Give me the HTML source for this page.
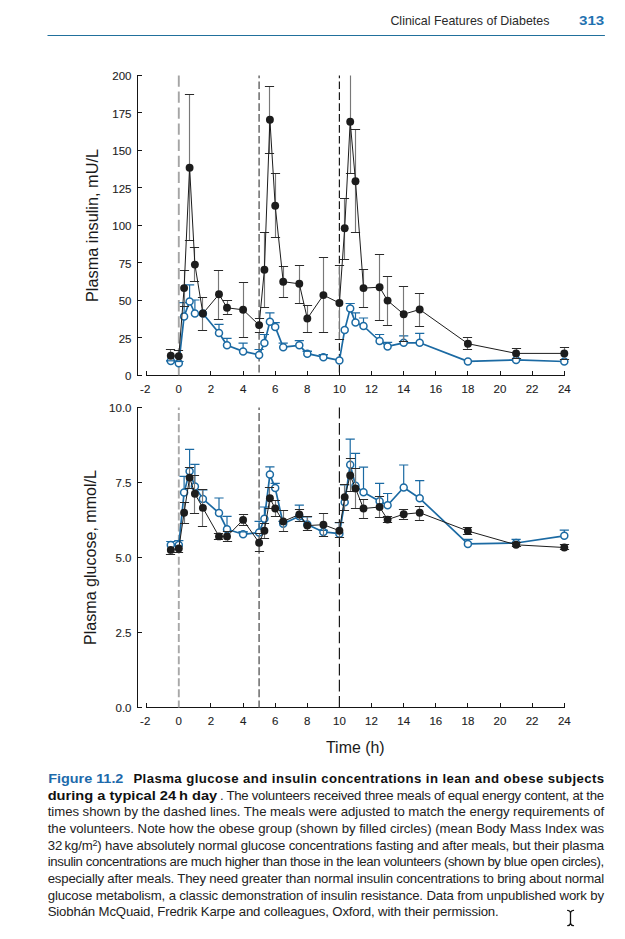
<!DOCTYPE html>
<html><head><meta charset="utf-8"><style>
html,body{margin:0;padding:0;background:#fff;}
body{width:625px;height:939px;overflow:hidden;}
svg{display:block;}
text{font-family:"Liberation Sans",sans-serif;}
.tk{font-size:11.5px;fill:#1e1e1e;stroke:#1e1e1e;stroke-width:0.12px;}
.ax{font-size:16px;fill:#1a1a1a;}
.hd{font-size:13.3px;fill:#2a2a2a;}
.pg{font-size:13.4px;font-weight:bold;fill:#1f72b0;}
.cp{font-size:13.2px;fill:#222;}
.b{font-weight:bold;fill:#111;}
.fig{font-weight:bold;fill:#1d6aab;}
</style></head><body>
<svg width="625" height="939" viewBox="0 0 625 939">
<path d="M137.5 75.0V376.0" stroke="#151515" stroke-width="1" fill="none"/>
<path d="M137.5 375.5H142" stroke="#151515" stroke-width="1"/>
<text x="131.5" y="380.0" text-anchor="end" class="tk">0</text>
<path d="M137.5 337.5H142" stroke="#151515" stroke-width="1"/>
<text x="131.5" y="342.5" text-anchor="end" class="tk">25</text>
<path d="M137.5 300.5H142" stroke="#151515" stroke-width="1"/>
<text x="131.5" y="305.0" text-anchor="end" class="tk">50</text>
<path d="M137.5 262.5H142" stroke="#151515" stroke-width="1"/>
<text x="131.5" y="267.5" text-anchor="end" class="tk">75</text>
<path d="M137.5 225.5H142" stroke="#151515" stroke-width="1"/>
<text x="131.5" y="230.0" text-anchor="end" class="tk">100</text>
<path d="M137.5 187.5H142" stroke="#151515" stroke-width="1"/>
<text x="131.5" y="192.5" text-anchor="end" class="tk">125</text>
<path d="M137.5 150.5H142" stroke="#151515" stroke-width="1"/>
<text x="131.5" y="155.0" text-anchor="end" class="tk">150</text>
<path d="M137.5 112.5H142" stroke="#151515" stroke-width="1"/>
<text x="131.5" y="117.5" text-anchor="end" class="tk">175</text>
<path d="M137.5 75.5H142" stroke="#151515" stroke-width="1"/>
<text x="131.5" y="80.0" text-anchor="end" class="tk">200</text>
<path d="M146 375.5H565" stroke="#151515" stroke-width="1" fill="none"/>
<path d="M146.5 375.5V371.0" stroke="#151515" stroke-width="1"/>
<text x="145.2" y="392.6" text-anchor="middle" class="tk">-2</text>
<path d="M178.5 375.5V371.0" stroke="#151515" stroke-width="1"/>
<text x="178.8" y="392.6" text-anchor="middle" class="tk">0</text>
<path d="M210.5 375.5V371.0" stroke="#151515" stroke-width="1"/>
<text x="211.0" y="392.6" text-anchor="middle" class="tk">2</text>
<path d="M243.5 375.5V371.0" stroke="#151515" stroke-width="1"/>
<text x="243.1" y="392.6" text-anchor="middle" class="tk">4</text>
<path d="M275.5 375.5V371.0" stroke="#151515" stroke-width="1"/>
<text x="275.2" y="392.6" text-anchor="middle" class="tk">6</text>
<path d="M307.5 375.5V371.0" stroke="#151515" stroke-width="1"/>
<text x="307.3" y="392.6" text-anchor="middle" class="tk">8</text>
<path d="M339.5 375.5V371.0" stroke="#151515" stroke-width="1"/>
<text x="339.4" y="392.6" text-anchor="middle" class="tk">10</text>
<path d="M371.5 375.5V371.0" stroke="#151515" stroke-width="1"/>
<text x="371.5" y="392.6" text-anchor="middle" class="tk">12</text>
<path d="M403.5 375.5V371.0" stroke="#151515" stroke-width="1"/>
<text x="403.7" y="392.6" text-anchor="middle" class="tk">14</text>
<path d="M435.5 375.5V371.0" stroke="#151515" stroke-width="1"/>
<text x="435.8" y="392.6" text-anchor="middle" class="tk">16</text>
<path d="M467.5 375.5V371.0" stroke="#151515" stroke-width="1"/>
<text x="467.9" y="392.6" text-anchor="middle" class="tk">18</text>
<path d="M500.5 375.5V371.0" stroke="#151515" stroke-width="1"/>
<text x="500.0" y="392.6" text-anchor="middle" class="tk">20</text>
<path d="M532.5 375.5V371.0" stroke="#151515" stroke-width="1"/>
<text x="532.1" y="392.6" text-anchor="middle" class="tk">22</text>
<path d="M564.5 375.5V371.0" stroke="#151515" stroke-width="1"/>
<text x="564.3" y="392.6" text-anchor="middle" class="tk">24</text>
<line x1="178.8" y1="75.4" x2="178.8" y2="375.3" stroke="#a5a5a5" stroke-width="1.9" stroke-dasharray="11.3 4.75" stroke-dashoffset="0"/>
<line x1="259.1" y1="75.4" x2="259.1" y2="375.3" stroke="#606060" stroke-width="1.4" stroke-dasharray="7.7 3.2" stroke-dashoffset="4.9"/>
<line x1="339.4" y1="75.4" x2="339.4" y2="375.3" stroke="#1a1a1a" stroke-width="1.2" stroke-dasharray="7.7 3.2" stroke-dashoffset="4.9"/>
<path d="M170.8 361.1V360.8M166.2 360.8H175.4" stroke="#1b6aa3" stroke-width="1.2" fill="none"/>
<path d="M178.8 363.3V361.5M174.2 361.5H183.4" stroke="#1b6aa3" stroke-width="1.2" fill="none"/>
<path d="M184.1 316.4V302.7M179.5 302.7H188.7" stroke="#1b6aa3" stroke-width="1.2" fill="none"/>
<path d="M189.6 301.5V284.9M185.0 284.9H194.2" stroke="#1b6aa3" stroke-width="1.2" fill="none"/>
<path d="M194.9 313.5V300.0M190.3 300.0H199.5" stroke="#1b6aa3" stroke-width="1.2" fill="none"/>
<path d="M219.0 333.0V324.3M214.4 324.3H223.6" stroke="#1b6aa3" stroke-width="1.2" fill="none"/>
<path d="M227.0 345.3V338.4M222.4 338.4H231.6" stroke="#1b6aa3" stroke-width="1.2" fill="none"/>
<path d="M243.1 351.4V343.1M238.5 343.1H247.7" stroke="#1b6aa3" stroke-width="1.2" fill="none"/>
<path d="M259.1 354.9V349.5M254.5 349.5H263.7" stroke="#1b6aa3" stroke-width="1.2" fill="none"/>
<path d="M264.4 343.1V334.5M259.8 334.5H269.0" stroke="#1b6aa3" stroke-width="1.2" fill="none"/>
<path d="M269.9 321.8V312.8M265.3 312.8H274.5" stroke="#1b6aa3" stroke-width="1.2" fill="none"/>
<path d="M275.2 326.9V322.6M270.6 322.6H279.8" stroke="#1b6aa3" stroke-width="1.2" fill="none"/>
<path d="M283.2 347.2V343.1M278.6 343.1H287.8" stroke="#1b6aa3" stroke-width="1.2" fill="none"/>
<path d="M299.3 345.3V340.6M294.7 340.6H303.9" stroke="#1b6aa3" stroke-width="1.2" fill="none"/>
<path d="M307.3 353.7V351.3M302.7 351.3H311.9" stroke="#1b6aa3" stroke-width="1.2" fill="none"/>
<path d="M323.4 357.2V354.6M318.8 354.6H328.0" stroke="#1b6aa3" stroke-width="1.2" fill="none"/>
<path d="M350.2 308.6V303.5M345.6 303.5H354.8" stroke="#1b6aa3" stroke-width="1.2" fill="none"/>
<path d="M355.5 322.6V312.8M350.9 312.8H360.1" stroke="#1b6aa3" stroke-width="1.2" fill="none"/>
<path d="M363.5 326.0V318.0M358.9 318.0H368.1" stroke="#1b6aa3" stroke-width="1.2" fill="none"/>
<path d="M379.6 341.0V334.5M375.0 334.5H384.2" stroke="#1b6aa3" stroke-width="1.2" fill="none"/>
<path d="M387.6 346.4V342.3M383.0 342.3H392.2" stroke="#1b6aa3" stroke-width="1.2" fill="none"/>
<path d="M403.7 342.8V335.9M399.1 335.9H408.3" stroke="#1b6aa3" stroke-width="1.2" fill="none"/>
<path d="M419.7 342.8V333.3M415.1 333.3H424.3" stroke="#1b6aa3" stroke-width="1.2" fill="none"/>
<polyline points="170.8,361.1 178.8,363.3 184.1,316.4 189.6,301.5 194.9,313.5 202.9,313.5 219.0,333.0 227.0,345.3 243.1,351.4 259.1,354.9 264.4,343.1 269.9,321.8 275.2,326.9 283.2,347.2 299.3,345.3 307.3,353.7 323.4,357.2 339.4,360.4 344.7,329.9 350.2,308.6 355.5,322.6 363.5,326.0 379.6,341.0 387.6,346.4 403.7,342.8 419.7,342.8 467.9,361.4 516.1,359.9 564.3,361.5" fill="none" stroke="#1b6aa3" stroke-width="1.7" stroke-linejoin="round"/>
<circle cx="170.8" cy="361.1" r="3.5" fill="#fff" stroke="#1b6aa3" stroke-width="1.5"/>
<circle cx="178.8" cy="363.3" r="3.5" fill="#fff" stroke="#1b6aa3" stroke-width="1.5"/>
<circle cx="184.1" cy="316.4" r="3.5" fill="#fff" stroke="#1b6aa3" stroke-width="1.5"/>
<circle cx="189.6" cy="301.5" r="3.5" fill="#fff" stroke="#1b6aa3" stroke-width="1.5"/>
<circle cx="194.9" cy="313.5" r="3.5" fill="#fff" stroke="#1b6aa3" stroke-width="1.5"/>
<circle cx="202.9" cy="313.5" r="3.5" fill="#fff" stroke="#1b6aa3" stroke-width="1.5"/>
<circle cx="219.0" cy="333.0" r="3.5" fill="#fff" stroke="#1b6aa3" stroke-width="1.5"/>
<circle cx="227.0" cy="345.3" r="3.5" fill="#fff" stroke="#1b6aa3" stroke-width="1.5"/>
<circle cx="243.1" cy="351.4" r="3.5" fill="#fff" stroke="#1b6aa3" stroke-width="1.5"/>
<circle cx="259.1" cy="354.9" r="3.5" fill="#fff" stroke="#1b6aa3" stroke-width="1.5"/>
<circle cx="264.4" cy="343.1" r="3.5" fill="#fff" stroke="#1b6aa3" stroke-width="1.5"/>
<circle cx="269.9" cy="321.8" r="3.5" fill="#fff" stroke="#1b6aa3" stroke-width="1.5"/>
<circle cx="275.2" cy="326.9" r="3.5" fill="#fff" stroke="#1b6aa3" stroke-width="1.5"/>
<circle cx="283.2" cy="347.2" r="3.5" fill="#fff" stroke="#1b6aa3" stroke-width="1.5"/>
<circle cx="299.3" cy="345.3" r="3.5" fill="#fff" stroke="#1b6aa3" stroke-width="1.5"/>
<circle cx="307.3" cy="353.7" r="3.5" fill="#fff" stroke="#1b6aa3" stroke-width="1.5"/>
<circle cx="323.4" cy="357.2" r="3.5" fill="#fff" stroke="#1b6aa3" stroke-width="1.5"/>
<circle cx="339.4" cy="360.4" r="3.5" fill="#fff" stroke="#1b6aa3" stroke-width="1.5"/>
<circle cx="344.7" cy="329.9" r="3.5" fill="#fff" stroke="#1b6aa3" stroke-width="1.5"/>
<circle cx="350.2" cy="308.6" r="3.5" fill="#fff" stroke="#1b6aa3" stroke-width="1.5"/>
<circle cx="355.5" cy="322.6" r="3.5" fill="#fff" stroke="#1b6aa3" stroke-width="1.5"/>
<circle cx="363.5" cy="326.0" r="3.5" fill="#fff" stroke="#1b6aa3" stroke-width="1.5"/>
<circle cx="379.6" cy="341.0" r="3.5" fill="#fff" stroke="#1b6aa3" stroke-width="1.5"/>
<circle cx="387.6" cy="346.4" r="3.5" fill="#fff" stroke="#1b6aa3" stroke-width="1.5"/>
<circle cx="403.7" cy="342.8" r="3.5" fill="#fff" stroke="#1b6aa3" stroke-width="1.5"/>
<circle cx="419.7" cy="342.8" r="3.5" fill="#fff" stroke="#1b6aa3" stroke-width="1.5"/>
<circle cx="467.9" cy="361.4" r="3.5" fill="#fff" stroke="#1b6aa3" stroke-width="1.5"/>
<circle cx="516.1" cy="359.9" r="3.5" fill="#fff" stroke="#1b6aa3" stroke-width="1.5"/>
<circle cx="564.3" cy="361.5" r="3.5" fill="#fff" stroke="#1b6aa3" stroke-width="1.5"/>
<path d="M166.2 360.8H175.4" stroke="#1b6aa3" stroke-width="1.2" fill="none"/>
<path d="M174.2 361.5H183.4" stroke="#1b6aa3" stroke-width="1.2" fill="none"/>
<path d="M302.7 351.3H311.9" stroke="#1b6aa3" stroke-width="1.2" fill="none"/>
<path d="M318.8 354.6H328.0" stroke="#1b6aa3" stroke-width="1.2" fill="none"/>
<path d="M170.5 355.8V349.5" stroke="#787878" stroke-width="1.15"/>
<path d="M165.9 349.5H175.1" stroke="#2a2a2a" stroke-width="1"/>
<path d="M178.5 356.2V350.5" stroke="#787878" stroke-width="1.15"/>
<path d="M173.9 350.5H183.1" stroke="#2a2a2a" stroke-width="1"/>
<path d="M184.5 288.1V270.5" stroke="#787878" stroke-width="1.15"/>
<path d="M179.9 270.5H189.1" stroke="#2a2a2a" stroke-width="1"/>
<path d="M184.5 288.1V306.5" stroke="#787878" stroke-width="1.15"/>
<path d="M179.9 306.5H189.1" stroke="#2a2a2a" stroke-width="1"/>
<path d="M189.5 167.7V94.5" stroke="#787878" stroke-width="1.15"/>
<path d="M184.9 94.5H194.1" stroke="#2a2a2a" stroke-width="1"/>
<path d="M189.5 167.7V240.5" stroke="#787878" stroke-width="1.15"/>
<path d="M184.9 240.5H194.1" stroke="#2a2a2a" stroke-width="1"/>
<path d="M194.5 264.6V247.5" stroke="#787878" stroke-width="1.15"/>
<path d="M189.9 247.5H199.1" stroke="#2a2a2a" stroke-width="1"/>
<path d="M194.5 264.6V281.5" stroke="#787878" stroke-width="1.15"/>
<path d="M189.9 281.5H199.1" stroke="#2a2a2a" stroke-width="1"/>
<path d="M202.5 313.5V297.5" stroke="#787878" stroke-width="1.15"/>
<path d="M197.9 297.5H207.1" stroke="#2a2a2a" stroke-width="1"/>
<path d="M202.5 313.5V330.5" stroke="#787878" stroke-width="1.15"/>
<path d="M197.9 330.5H207.1" stroke="#2a2a2a" stroke-width="1"/>
<path d="M218.5 294.3V270.5" stroke="#787878" stroke-width="1.15"/>
<path d="M213.9 270.5H223.1" stroke="#2a2a2a" stroke-width="1"/>
<path d="M218.5 294.3V319.5" stroke="#787878" stroke-width="1.15"/>
<path d="M213.9 319.5H223.1" stroke="#2a2a2a" stroke-width="1"/>
<path d="M227.5 307.8V300.5" stroke="#787878" stroke-width="1.15"/>
<path d="M222.9 300.5H232.1" stroke="#2a2a2a" stroke-width="1"/>
<path d="M227.5 307.8V314.5" stroke="#787878" stroke-width="1.15"/>
<path d="M222.9 314.5H232.1" stroke="#2a2a2a" stroke-width="1"/>
<path d="M243.5 309.8V282.5" stroke="#787878" stroke-width="1.15"/>
<path d="M238.9 282.5H248.1" stroke="#2a2a2a" stroke-width="1"/>
<path d="M243.5 309.8V337.5" stroke="#787878" stroke-width="1.15"/>
<path d="M238.9 337.5H248.1" stroke="#2a2a2a" stroke-width="1"/>
<path d="M259.5 325.1V318.5" stroke="#787878" stroke-width="1.15"/>
<path d="M254.9 318.5H264.1" stroke="#2a2a2a" stroke-width="1"/>
<path d="M259.5 325.1V332.5" stroke="#787878" stroke-width="1.15"/>
<path d="M254.9 332.5H264.1" stroke="#2a2a2a" stroke-width="1"/>
<path d="M264.5 269.7V232.5" stroke="#787878" stroke-width="1.15"/>
<path d="M259.9 232.5H269.1" stroke="#2a2a2a" stroke-width="1"/>
<path d="M264.5 269.7V307.5" stroke="#787878" stroke-width="1.15"/>
<path d="M259.9 307.5H269.1" stroke="#2a2a2a" stroke-width="1"/>
<path d="M269.5 119.7V86.5" stroke="#787878" stroke-width="1.15"/>
<path d="M264.9 86.5H274.1" stroke="#2a2a2a" stroke-width="1"/>
<path d="M269.5 119.7V153.5" stroke="#787878" stroke-width="1.15"/>
<path d="M264.9 153.5H274.1" stroke="#2a2a2a" stroke-width="1"/>
<path d="M275.5 205.8V173.5" stroke="#787878" stroke-width="1.15"/>
<path d="M270.9 173.5H280.1" stroke="#2a2a2a" stroke-width="1"/>
<path d="M275.5 205.8V237.5" stroke="#787878" stroke-width="1.15"/>
<path d="M270.9 237.5H280.1" stroke="#2a2a2a" stroke-width="1"/>
<path d="M283.5 281.7V266.5" stroke="#787878" stroke-width="1.15"/>
<path d="M278.9 266.5H288.1" stroke="#2a2a2a" stroke-width="1"/>
<path d="M283.5 281.7V297.5" stroke="#787878" stroke-width="1.15"/>
<path d="M278.9 297.5H288.1" stroke="#2a2a2a" stroke-width="1"/>
<path d="M299.5 283.8V265.5" stroke="#787878" stroke-width="1.15"/>
<path d="M294.9 265.5H304.1" stroke="#2a2a2a" stroke-width="1"/>
<path d="M299.5 283.8V303.5" stroke="#787878" stroke-width="1.15"/>
<path d="M294.9 303.5H304.1" stroke="#2a2a2a" stroke-width="1"/>
<path d="M307.5 318.5V305.5" stroke="#787878" stroke-width="1.15"/>
<path d="M302.9 305.5H312.1" stroke="#2a2a2a" stroke-width="1"/>
<path d="M307.5 318.5V332.5" stroke="#787878" stroke-width="1.15"/>
<path d="M302.9 332.5H312.1" stroke="#2a2a2a" stroke-width="1"/>
<path d="M323.5 295.1V257.5" stroke="#787878" stroke-width="1.15"/>
<path d="M318.9 257.5H328.1" stroke="#2a2a2a" stroke-width="1"/>
<path d="M323.5 295.1V332.5" stroke="#787878" stroke-width="1.15"/>
<path d="M318.9 332.5H328.1" stroke="#2a2a2a" stroke-width="1"/>
<path d="M339.5 303.0V265.5" stroke="#787878" stroke-width="1.15"/>
<path d="M334.9 265.5H344.1" stroke="#2a2a2a" stroke-width="1"/>
<path d="M339.5 303.0V339.5" stroke="#787878" stroke-width="1.15"/>
<path d="M334.9 339.5H344.1" stroke="#2a2a2a" stroke-width="1"/>
<path d="M344.5 228.3V198.5" stroke="#787878" stroke-width="1.15"/>
<path d="M339.9 198.5H349.1" stroke="#2a2a2a" stroke-width="1"/>
<path d="M344.5 228.3V259.5" stroke="#787878" stroke-width="1.15"/>
<path d="M339.9 259.5H349.1" stroke="#2a2a2a" stroke-width="1"/>
<path d="M350.5 121.8V75.5" stroke="#787878" stroke-width="1.15"/>
<path d="M350.5 121.8V173.5" stroke="#787878" stroke-width="1.15"/>
<path d="M345.9 173.5H355.1" stroke="#2a2a2a" stroke-width="1"/>
<path d="M355.5 181.2V129.5" stroke="#787878" stroke-width="1.15"/>
<path d="M350.9 129.5H360.1" stroke="#2a2a2a" stroke-width="1"/>
<path d="M355.5 181.2V232.5" stroke="#787878" stroke-width="1.15"/>
<path d="M350.9 232.5H360.1" stroke="#2a2a2a" stroke-width="1"/>
<path d="M363.5 288.1V269.5" stroke="#787878" stroke-width="1.15"/>
<path d="M358.9 269.5H368.1" stroke="#2a2a2a" stroke-width="1"/>
<path d="M363.5 288.1V307.5" stroke="#787878" stroke-width="1.15"/>
<path d="M358.9 307.5H368.1" stroke="#2a2a2a" stroke-width="1"/>
<path d="M379.5 287.2V254.5" stroke="#787878" stroke-width="1.15"/>
<path d="M374.9 254.5H384.1" stroke="#2a2a2a" stroke-width="1"/>
<path d="M379.5 287.2V320.5" stroke="#787878" stroke-width="1.15"/>
<path d="M374.9 320.5H384.1" stroke="#2a2a2a" stroke-width="1"/>
<path d="M387.5 300.6V276.5" stroke="#787878" stroke-width="1.15"/>
<path d="M382.9 276.5H392.1" stroke="#2a2a2a" stroke-width="1"/>
<path d="M387.5 300.6V325.5" stroke="#787878" stroke-width="1.15"/>
<path d="M382.9 325.5H392.1" stroke="#2a2a2a" stroke-width="1"/>
<path d="M403.5 314.2V286.5" stroke="#787878" stroke-width="1.15"/>
<path d="M398.9 286.5H408.1" stroke="#2a2a2a" stroke-width="1"/>
<path d="M403.5 314.2V341.5" stroke="#787878" stroke-width="1.15"/>
<path d="M398.9 341.5H408.1" stroke="#2a2a2a" stroke-width="1"/>
<path d="M419.5 309.5V293.5" stroke="#787878" stroke-width="1.15"/>
<path d="M414.9 293.5H424.1" stroke="#2a2a2a" stroke-width="1"/>
<path d="M419.5 309.5V326.5" stroke="#787878" stroke-width="1.15"/>
<path d="M414.9 326.5H424.1" stroke="#2a2a2a" stroke-width="1"/>
<path d="M467.5 343.7V337.5" stroke="#787878" stroke-width="1.15"/>
<path d="M462.9 337.5H472.1" stroke="#2a2a2a" stroke-width="1"/>
<path d="M467.5 343.7V349.5" stroke="#787878" stroke-width="1.15"/>
<path d="M462.9 349.5H472.1" stroke="#2a2a2a" stroke-width="1"/>
<path d="M516.5 353.4V348.5" stroke="#787878" stroke-width="1.15"/>
<path d="M511.9 348.5H521.1" stroke="#2a2a2a" stroke-width="1"/>
<path d="M516.5 353.4V358.5" stroke="#787878" stroke-width="1.15"/>
<path d="M511.9 358.5H521.1" stroke="#2a2a2a" stroke-width="1"/>
<path d="M564.5 353.4V347.5" stroke="#787878" stroke-width="1.15"/>
<path d="M559.9 347.5H569.1" stroke="#2a2a2a" stroke-width="1"/>
<path d="M564.5 353.4V359.5" stroke="#787878" stroke-width="1.15"/>
<path d="M559.9 359.5H569.1" stroke="#2a2a2a" stroke-width="1"/>
<polyline points="170.8,355.8 178.8,356.2 184.1,288.1 189.6,167.7 194.9,264.6 202.9,313.5 219.0,294.3 227.0,307.8 243.1,309.8 259.1,325.1 264.4,269.7 269.9,119.7 275.2,205.8 283.2,281.7 299.3,283.8 307.3,318.5 323.4,295.1 339.4,303.0 344.7,228.3 350.2,121.8 355.5,181.2 363.5,288.1 379.6,287.2 387.6,300.6 403.7,314.2 419.7,309.5 467.9,343.7 516.1,353.4 564.3,353.4" fill="none" stroke="#1c1c1c" stroke-width="1" stroke-linejoin="round"/>
<circle cx="170.8" cy="355.8" r="3.95" fill="#1c1c1c"/>
<circle cx="178.8" cy="356.2" r="3.95" fill="#1c1c1c"/>
<circle cx="184.1" cy="288.1" r="3.95" fill="#1c1c1c"/>
<circle cx="189.6" cy="167.7" r="3.95" fill="#1c1c1c"/>
<circle cx="194.9" cy="264.6" r="3.95" fill="#1c1c1c"/>
<circle cx="202.9" cy="313.5" r="3.95" fill="#1c1c1c"/>
<circle cx="219.0" cy="294.3" r="3.95" fill="#1c1c1c"/>
<circle cx="227.0" cy="307.8" r="3.95" fill="#1c1c1c"/>
<circle cx="243.1" cy="309.8" r="3.95" fill="#1c1c1c"/>
<circle cx="259.1" cy="325.1" r="3.95" fill="#1c1c1c"/>
<circle cx="264.4" cy="269.7" r="3.95" fill="#1c1c1c"/>
<circle cx="269.9" cy="119.7" r="3.95" fill="#1c1c1c"/>
<circle cx="275.2" cy="205.8" r="3.95" fill="#1c1c1c"/>
<circle cx="283.2" cy="281.7" r="3.95" fill="#1c1c1c"/>
<circle cx="299.3" cy="283.8" r="3.95" fill="#1c1c1c"/>
<circle cx="307.3" cy="318.5" r="3.95" fill="#1c1c1c"/>
<circle cx="323.4" cy="295.1" r="3.95" fill="#1c1c1c"/>
<circle cx="339.4" cy="303.0" r="3.95" fill="#1c1c1c"/>
<circle cx="344.7" cy="228.3" r="3.95" fill="#1c1c1c"/>
<circle cx="350.2" cy="121.8" r="3.95" fill="#1c1c1c"/>
<circle cx="355.5" cy="181.2" r="3.95" fill="#1c1c1c"/>
<circle cx="363.5" cy="288.1" r="3.95" fill="#1c1c1c"/>
<circle cx="379.6" cy="287.2" r="3.95" fill="#1c1c1c"/>
<circle cx="387.6" cy="300.6" r="3.95" fill="#1c1c1c"/>
<circle cx="403.7" cy="314.2" r="3.95" fill="#1c1c1c"/>
<circle cx="419.7" cy="309.5" r="3.95" fill="#1c1c1c"/>
<circle cx="467.9" cy="343.7" r="3.95" fill="#1c1c1c"/>
<circle cx="516.1" cy="353.4" r="3.95" fill="#1c1c1c"/>
<circle cx="564.3" cy="353.4" r="3.95" fill="#1c1c1c"/>
<path d="M137.5 407.0V708.0" stroke="#151515" stroke-width="1" fill="none"/>
<path d="M137.5 707.5H142" stroke="#151515" stroke-width="1"/>
<text x="131.5" y="712.1" text-anchor="end" class="tk">0.0</text>
<path d="M137.5 632.5H142" stroke="#151515" stroke-width="1"/>
<text x="131.5" y="637.1" text-anchor="end" class="tk">2.5</text>
<path d="M137.5 557.5H142" stroke="#151515" stroke-width="1"/>
<text x="131.5" y="562.1" text-anchor="end" class="tk">5.0</text>
<path d="M137.5 482.5H142" stroke="#151515" stroke-width="1"/>
<text x="131.5" y="487.1" text-anchor="end" class="tk">7.5</text>
<path d="M137.5 407.5H142" stroke="#151515" stroke-width="1"/>
<text x="131.5" y="412.1" text-anchor="end" class="tk">10.0</text>
<path d="M146 707.5H565" stroke="#151515" stroke-width="1" fill="none"/>
<path d="M146.5 707.5V703.0" stroke="#151515" stroke-width="1"/>
<text x="145.2" y="724.8" text-anchor="middle" class="tk">-2</text>
<path d="M178.5 707.5V703.0" stroke="#151515" stroke-width="1"/>
<text x="178.8" y="724.8" text-anchor="middle" class="tk">0</text>
<path d="M210.5 707.5V703.0" stroke="#151515" stroke-width="1"/>
<text x="211.0" y="724.8" text-anchor="middle" class="tk">2</text>
<path d="M243.5 707.5V703.0" stroke="#151515" stroke-width="1"/>
<text x="243.1" y="724.8" text-anchor="middle" class="tk">4</text>
<path d="M275.5 707.5V703.0" stroke="#151515" stroke-width="1"/>
<text x="275.2" y="724.8" text-anchor="middle" class="tk">6</text>
<path d="M307.5 707.5V703.0" stroke="#151515" stroke-width="1"/>
<text x="307.3" y="724.8" text-anchor="middle" class="tk">8</text>
<path d="M339.5 707.5V703.0" stroke="#151515" stroke-width="1"/>
<text x="339.4" y="724.8" text-anchor="middle" class="tk">10</text>
<path d="M371.5 707.5V703.0" stroke="#151515" stroke-width="1"/>
<text x="371.5" y="724.8" text-anchor="middle" class="tk">12</text>
<path d="M403.5 707.5V703.0" stroke="#151515" stroke-width="1"/>
<text x="403.7" y="724.8" text-anchor="middle" class="tk">14</text>
<path d="M435.5 707.5V703.0" stroke="#151515" stroke-width="1"/>
<text x="435.8" y="724.8" text-anchor="middle" class="tk">16</text>
<path d="M467.5 707.5V703.0" stroke="#151515" stroke-width="1"/>
<text x="467.9" y="724.8" text-anchor="middle" class="tk">18</text>
<path d="M500.5 707.5V703.0" stroke="#151515" stroke-width="1"/>
<text x="500.0" y="724.8" text-anchor="middle" class="tk">20</text>
<path d="M532.5 707.5V703.0" stroke="#151515" stroke-width="1"/>
<text x="532.1" y="724.8" text-anchor="middle" class="tk">22</text>
<path d="M564.5 707.5V703.0" stroke="#151515" stroke-width="1"/>
<text x="564.3" y="724.8" text-anchor="middle" class="tk">24</text>
<line x1="178.8" y1="407.4" x2="178.8" y2="707.4" stroke="#a8a8a8" stroke-width="1.9" stroke-dasharray="8 3.05" stroke-dashoffset="5.35"/>
<line x1="259.1" y1="407.4" x2="259.1" y2="707.4" stroke="#6a6a6a" stroke-width="1.5" stroke-dasharray="8 3.05" stroke-dashoffset="5.35"/>
<line x1="339.4" y1="407.4" x2="339.4" y2="707.4" stroke="#1a1a1a" stroke-width="1.2" stroke-dasharray="11.6 4.45" stroke-dashoffset="0.4"/>
<path d="M170.8 545.1V541.5M166.2 541.5H175.4" stroke="#1b6aa3" stroke-width="1.2" fill="none"/>
<path d="M178.8 545.1V540.6M174.2 540.6H183.4" stroke="#1b6aa3" stroke-width="1.2" fill="none"/>
<path d="M184.1 492.6V476.4M179.5 476.4H188.7" stroke="#1b6aa3" stroke-width="1.2" fill="none"/>
<path d="M189.6 471.3V449.4M185.0 449.4H194.2" stroke="#1b6aa3" stroke-width="1.2" fill="none"/>
<path d="M194.9 486.6V464.4M190.3 464.4H199.5" stroke="#1b6aa3" stroke-width="1.2" fill="none"/>
<path d="M202.9 498.9V489.9M198.3 489.9H207.5" stroke="#1b6aa3" stroke-width="1.2" fill="none"/>
<path d="M219.0 513.0V498.0M214.4 498.0H223.6" stroke="#1b6aa3" stroke-width="1.2" fill="none"/>
<path d="M227.0 529.2V516.3M222.4 516.3H231.6" stroke="#1b6aa3" stroke-width="1.2" fill="none"/>
<path d="M243.1 534.3V531.9M238.5 531.9H247.7" stroke="#1b6aa3" stroke-width="1.2" fill="none"/>
<path d="M259.1 532.5V521.4M254.5 521.4H263.7" stroke="#1b6aa3" stroke-width="1.2" fill="none"/>
<path d="M264.4 518.7V507.0M259.8 507.0H269.0" stroke="#1b6aa3" stroke-width="1.2" fill="none"/>
<path d="M269.9 474.6V466.8M265.3 466.8H274.5" stroke="#1b6aa3" stroke-width="1.2" fill="none"/>
<path d="M275.2 488.1V483.3M270.6 483.3H279.8" stroke="#1b6aa3" stroke-width="1.2" fill="none"/>
<path d="M283.2 523.8V521.4M278.6 521.4H287.8" stroke="#1b6aa3" stroke-width="1.2" fill="none"/>
<path d="M299.3 516.3V505.2M294.7 505.2H303.9" stroke="#1b6aa3" stroke-width="1.2" fill="none"/>
<path d="M307.3 524.4V516.9M302.7 516.9H311.9" stroke="#1b6aa3" stroke-width="1.2" fill="none"/>
<path d="M323.4 531.9V530.4M318.8 530.4H328.0" stroke="#1b6aa3" stroke-width="1.2" fill="none"/>
<path d="M339.4 533.7V522.6M334.8 522.6H344.0" stroke="#1b6aa3" stroke-width="1.2" fill="none"/>
<path d="M344.7 502.2V484.8M340.1 484.8H349.3" stroke="#1b6aa3" stroke-width="1.2" fill="none"/>
<path d="M350.2 464.7V439.2M345.6 439.2H354.8" stroke="#1b6aa3" stroke-width="1.2" fill="none"/>
<path d="M355.5 485.7V453.3M350.9 453.3H360.1" stroke="#1b6aa3" stroke-width="1.2" fill="none"/>
<path d="M363.5 492.3V467.1M358.9 467.1H368.1" stroke="#1b6aa3" stroke-width="1.2" fill="none"/>
<path d="M379.6 501.3V483.3M375.0 483.3H384.2" stroke="#1b6aa3" stroke-width="1.2" fill="none"/>
<path d="M387.6 505.2V493.5M383.0 493.5H392.2" stroke="#1b6aa3" stroke-width="1.2" fill="none"/>
<path d="M403.7 487.5V465.0M399.1 465.0H408.3" stroke="#1b6aa3" stroke-width="1.2" fill="none"/>
<path d="M419.7 498.3V480.6M415.1 480.6H424.3" stroke="#1b6aa3" stroke-width="1.2" fill="none"/>
<path d="M467.9 543.9V539.4M463.3 539.4H472.5" stroke="#1b6aa3" stroke-width="1.2" fill="none"/>
<path d="M516.1 543.0V539.4M511.5 539.4H520.7" stroke="#1b6aa3" stroke-width="1.2" fill="none"/>
<path d="M564.3 535.8V530.1M559.7 530.1H568.9" stroke="#1b6aa3" stroke-width="1.2" fill="none"/>
<polyline points="170.8,545.1 178.8,545.1 184.1,492.6 189.6,471.3 194.9,486.6 202.9,498.9 219.0,513.0 227.0,529.2 243.1,534.3 259.1,532.5 264.4,518.7 269.9,474.6 275.2,488.1 283.2,523.8 299.3,516.3 307.3,524.4 323.4,531.9 339.4,533.7 344.7,502.2 350.2,464.7 355.5,485.7 363.5,492.3 379.6,501.3 387.6,505.2 403.7,487.5 419.7,498.3 467.9,543.9 516.1,543.0 564.3,535.8" fill="none" stroke="#1b6aa3" stroke-width="1.7" stroke-linejoin="round"/>
<circle cx="170.8" cy="545.1" r="3.5" fill="#fff" stroke="#1b6aa3" stroke-width="1.5"/>
<circle cx="178.8" cy="545.1" r="3.5" fill="#fff" stroke="#1b6aa3" stroke-width="1.5"/>
<circle cx="184.1" cy="492.6" r="3.5" fill="#fff" stroke="#1b6aa3" stroke-width="1.5"/>
<circle cx="189.6" cy="471.3" r="3.5" fill="#fff" stroke="#1b6aa3" stroke-width="1.5"/>
<circle cx="194.9" cy="486.6" r="3.5" fill="#fff" stroke="#1b6aa3" stroke-width="1.5"/>
<circle cx="202.9" cy="498.9" r="3.5" fill="#fff" stroke="#1b6aa3" stroke-width="1.5"/>
<circle cx="219.0" cy="513.0" r="3.5" fill="#fff" stroke="#1b6aa3" stroke-width="1.5"/>
<circle cx="227.0" cy="529.2" r="3.5" fill="#fff" stroke="#1b6aa3" stroke-width="1.5"/>
<circle cx="243.1" cy="534.3" r="3.5" fill="#fff" stroke="#1b6aa3" stroke-width="1.5"/>
<circle cx="259.1" cy="532.5" r="3.5" fill="#fff" stroke="#1b6aa3" stroke-width="1.5"/>
<circle cx="264.4" cy="518.7" r="3.5" fill="#fff" stroke="#1b6aa3" stroke-width="1.5"/>
<circle cx="269.9" cy="474.6" r="3.5" fill="#fff" stroke="#1b6aa3" stroke-width="1.5"/>
<circle cx="275.2" cy="488.1" r="3.5" fill="#fff" stroke="#1b6aa3" stroke-width="1.5"/>
<circle cx="283.2" cy="523.8" r="3.5" fill="#fff" stroke="#1b6aa3" stroke-width="1.5"/>
<circle cx="299.3" cy="516.3" r="3.5" fill="#fff" stroke="#1b6aa3" stroke-width="1.5"/>
<circle cx="307.3" cy="524.4" r="3.5" fill="#fff" stroke="#1b6aa3" stroke-width="1.5"/>
<circle cx="323.4" cy="531.9" r="3.5" fill="#fff" stroke="#1b6aa3" stroke-width="1.5"/>
<circle cx="339.4" cy="533.7" r="3.5" fill="#fff" stroke="#1b6aa3" stroke-width="1.5"/>
<circle cx="344.7" cy="502.2" r="3.5" fill="#fff" stroke="#1b6aa3" stroke-width="1.5"/>
<circle cx="350.2" cy="464.7" r="3.5" fill="#fff" stroke="#1b6aa3" stroke-width="1.5"/>
<circle cx="355.5" cy="485.7" r="3.5" fill="#fff" stroke="#1b6aa3" stroke-width="1.5"/>
<circle cx="363.5" cy="492.3" r="3.5" fill="#fff" stroke="#1b6aa3" stroke-width="1.5"/>
<circle cx="379.6" cy="501.3" r="3.5" fill="#fff" stroke="#1b6aa3" stroke-width="1.5"/>
<circle cx="387.6" cy="505.2" r="3.5" fill="#fff" stroke="#1b6aa3" stroke-width="1.5"/>
<circle cx="403.7" cy="487.5" r="3.5" fill="#fff" stroke="#1b6aa3" stroke-width="1.5"/>
<circle cx="419.7" cy="498.3" r="3.5" fill="#fff" stroke="#1b6aa3" stroke-width="1.5"/>
<circle cx="467.9" cy="543.9" r="3.5" fill="#fff" stroke="#1b6aa3" stroke-width="1.5"/>
<circle cx="516.1" cy="543.0" r="3.5" fill="#fff" stroke="#1b6aa3" stroke-width="1.5"/>
<circle cx="564.3" cy="535.8" r="3.5" fill="#fff" stroke="#1b6aa3" stroke-width="1.5"/>
<path d="M238.5 531.9H247.7" stroke="#1b6aa3" stroke-width="1.2" fill="none"/>
<path d="M278.6 521.4H287.8" stroke="#1b6aa3" stroke-width="1.2" fill="none"/>
<path d="M318.8 530.4H328.0" stroke="#1b6aa3" stroke-width="1.2" fill="none"/>
<path d="M170.5 549.9V554.5" stroke="#787878" stroke-width="1.15"/>
<path d="M165.9 554.5H175.1" stroke="#2a2a2a" stroke-width="1"/>
<path d="M178.5 548.4V552.5" stroke="#787878" stroke-width="1.15"/>
<path d="M173.9 552.5H183.1" stroke="#2a2a2a" stroke-width="1"/>
<path d="M184.5 512.7V502.5" stroke="#787878" stroke-width="1.15"/>
<path d="M179.9 502.5H189.1" stroke="#2a2a2a" stroke-width="1"/>
<path d="M184.5 512.7V523.5" stroke="#787878" stroke-width="1.15"/>
<path d="M179.9 523.5H189.1" stroke="#2a2a2a" stroke-width="1"/>
<path d="M189.5 477.6V467.5" stroke="#787878" stroke-width="1.15"/>
<path d="M184.9 467.5H194.1" stroke="#2a2a2a" stroke-width="1"/>
<path d="M189.5 477.6V488.5" stroke="#787878" stroke-width="1.15"/>
<path d="M184.9 488.5H194.1" stroke="#2a2a2a" stroke-width="1"/>
<path d="M194.5 493.8V475.5" stroke="#787878" stroke-width="1.15"/>
<path d="M189.9 475.5H199.1" stroke="#2a2a2a" stroke-width="1"/>
<path d="M194.5 493.8V513.5" stroke="#787878" stroke-width="1.15"/>
<path d="M189.9 513.5H199.1" stroke="#2a2a2a" stroke-width="1"/>
<path d="M202.5 507.9V489.5" stroke="#787878" stroke-width="1.15"/>
<path d="M197.9 489.5H207.1" stroke="#2a2a2a" stroke-width="1"/>
<path d="M202.5 507.9V526.5" stroke="#787878" stroke-width="1.15"/>
<path d="M197.9 526.5H207.1" stroke="#2a2a2a" stroke-width="1"/>
<path d="M218.5 536.4V533.5" stroke="#787878" stroke-width="1.15"/>
<path d="M213.9 533.5H223.1" stroke="#2a2a2a" stroke-width="1"/>
<path d="M218.5 536.4V539.5" stroke="#787878" stroke-width="1.15"/>
<path d="M213.9 539.5H223.1" stroke="#2a2a2a" stroke-width="1"/>
<path d="M227.5 536.4V531.5" stroke="#787878" stroke-width="1.15"/>
<path d="M222.9 531.5H232.1" stroke="#2a2a2a" stroke-width="1"/>
<path d="M227.5 536.4V541.5" stroke="#787878" stroke-width="1.15"/>
<path d="M222.9 541.5H232.1" stroke="#2a2a2a" stroke-width="1"/>
<path d="M243.5 519.9V514.5" stroke="#787878" stroke-width="1.15"/>
<path d="M238.9 514.5H248.1" stroke="#2a2a2a" stroke-width="1"/>
<path d="M243.5 519.9V525.5" stroke="#787878" stroke-width="1.15"/>
<path d="M238.9 525.5H248.1" stroke="#2a2a2a" stroke-width="1"/>
<path d="M259.5 542.7V533.5" stroke="#787878" stroke-width="1.15"/>
<path d="M254.9 533.5H264.1" stroke="#2a2a2a" stroke-width="1"/>
<path d="M259.5 542.7V551.5" stroke="#787878" stroke-width="1.15"/>
<path d="M254.9 551.5H264.1" stroke="#2a2a2a" stroke-width="1"/>
<path d="M264.5 530.7V523.5" stroke="#787878" stroke-width="1.15"/>
<path d="M259.9 523.5H269.1" stroke="#2a2a2a" stroke-width="1"/>
<path d="M264.5 530.7V538.5" stroke="#787878" stroke-width="1.15"/>
<path d="M259.9 538.5H269.1" stroke="#2a2a2a" stroke-width="1"/>
<path d="M269.5 498.3V487.5" stroke="#787878" stroke-width="1.15"/>
<path d="M264.9 487.5H274.1" stroke="#2a2a2a" stroke-width="1"/>
<path d="M269.5 498.3V508.5" stroke="#787878" stroke-width="1.15"/>
<path d="M264.9 508.5H274.1" stroke="#2a2a2a" stroke-width="1"/>
<path d="M275.5 508.5V500.5" stroke="#787878" stroke-width="1.15"/>
<path d="M270.9 500.5H280.1" stroke="#2a2a2a" stroke-width="1"/>
<path d="M275.5 508.5V516.5" stroke="#787878" stroke-width="1.15"/>
<path d="M270.9 516.5H280.1" stroke="#2a2a2a" stroke-width="1"/>
<path d="M283.5 521.4V510.5" stroke="#787878" stroke-width="1.15"/>
<path d="M278.9 510.5H288.1" stroke="#2a2a2a" stroke-width="1"/>
<path d="M283.5 521.4V531.5" stroke="#787878" stroke-width="1.15"/>
<path d="M278.9 531.5H288.1" stroke="#2a2a2a" stroke-width="1"/>
<path d="M299.5 514.5V509.5" stroke="#787878" stroke-width="1.15"/>
<path d="M294.9 509.5H304.1" stroke="#2a2a2a" stroke-width="1"/>
<path d="M299.5 514.5V521.5" stroke="#787878" stroke-width="1.15"/>
<path d="M294.9 521.5H304.1" stroke="#2a2a2a" stroke-width="1"/>
<path d="M307.5 525.6V516.5" stroke="#787878" stroke-width="1.15"/>
<path d="M302.9 516.5H312.1" stroke="#2a2a2a" stroke-width="1"/>
<path d="M307.5 525.6V530.5" stroke="#787878" stroke-width="1.15"/>
<path d="M302.9 530.5H312.1" stroke="#2a2a2a" stroke-width="1"/>
<path d="M323.5 524.7V513.5" stroke="#787878" stroke-width="1.15"/>
<path d="M318.9 513.5H328.1" stroke="#2a2a2a" stroke-width="1"/>
<path d="M323.5 524.7V536.5" stroke="#787878" stroke-width="1.15"/>
<path d="M318.9 536.5H328.1" stroke="#2a2a2a" stroke-width="1"/>
<path d="M339.5 530.7V522.5" stroke="#787878" stroke-width="1.15"/>
<path d="M334.9 522.5H344.1" stroke="#2a2a2a" stroke-width="1"/>
<path d="M339.5 530.7V537.5" stroke="#787878" stroke-width="1.15"/>
<path d="M334.9 537.5H344.1" stroke="#2a2a2a" stroke-width="1"/>
<path d="M344.5 497.1V484.5" stroke="#787878" stroke-width="1.15"/>
<path d="M339.9 484.5H349.1" stroke="#2a2a2a" stroke-width="1"/>
<path d="M344.5 497.1V510.5" stroke="#787878" stroke-width="1.15"/>
<path d="M339.9 510.5H349.1" stroke="#2a2a2a" stroke-width="1"/>
<path d="M350.5 475.5V458.5" stroke="#787878" stroke-width="1.15"/>
<path d="M345.9 458.5H355.1" stroke="#2a2a2a" stroke-width="1"/>
<path d="M350.5 475.5V491.5" stroke="#787878" stroke-width="1.15"/>
<path d="M345.9 491.5H355.1" stroke="#2a2a2a" stroke-width="1"/>
<path d="M355.5 488.4V468.5" stroke="#787878" stroke-width="1.15"/>
<path d="M350.9 468.5H360.1" stroke="#2a2a2a" stroke-width="1"/>
<path d="M355.5 488.4V508.5" stroke="#787878" stroke-width="1.15"/>
<path d="M350.9 508.5H360.1" stroke="#2a2a2a" stroke-width="1"/>
<path d="M363.5 508.5V499.5" stroke="#787878" stroke-width="1.15"/>
<path d="M358.9 499.5H368.1" stroke="#2a2a2a" stroke-width="1"/>
<path d="M363.5 508.5V518.5" stroke="#787878" stroke-width="1.15"/>
<path d="M358.9 518.5H368.1" stroke="#2a2a2a" stroke-width="1"/>
<path d="M379.5 507.0V496.5" stroke="#787878" stroke-width="1.15"/>
<path d="M374.9 496.5H384.1" stroke="#2a2a2a" stroke-width="1"/>
<path d="M379.5 507.0V517.5" stroke="#787878" stroke-width="1.15"/>
<path d="M374.9 517.5H384.1" stroke="#2a2a2a" stroke-width="1"/>
<path d="M387.5 519.6V516.5" stroke="#787878" stroke-width="1.15"/>
<path d="M382.9 516.5H392.1" stroke="#2a2a2a" stroke-width="1"/>
<path d="M387.5 519.6V522.5" stroke="#787878" stroke-width="1.15"/>
<path d="M382.9 522.5H392.1" stroke="#2a2a2a" stroke-width="1"/>
<path d="M403.5 514.2V509.5" stroke="#787878" stroke-width="1.15"/>
<path d="M398.9 509.5H408.1" stroke="#2a2a2a" stroke-width="1"/>
<path d="M403.5 514.2V519.5" stroke="#787878" stroke-width="1.15"/>
<path d="M398.9 519.5H408.1" stroke="#2a2a2a" stroke-width="1"/>
<path d="M419.5 512.7V506.5" stroke="#787878" stroke-width="1.15"/>
<path d="M414.9 506.5H424.1" stroke="#2a2a2a" stroke-width="1"/>
<path d="M419.5 512.7V520.5" stroke="#787878" stroke-width="1.15"/>
<path d="M414.9 520.5H424.1" stroke="#2a2a2a" stroke-width="1"/>
<path d="M467.5 531.0V527.5" stroke="#787878" stroke-width="1.15"/>
<path d="M462.9 527.5H472.1" stroke="#2a2a2a" stroke-width="1"/>
<path d="M467.5 531.0V534.5" stroke="#787878" stroke-width="1.15"/>
<path d="M462.9 534.5H472.1" stroke="#2a2a2a" stroke-width="1"/>
<path d="M516.5 544.8V542.5" stroke="#787878" stroke-width="1.15"/>
<path d="M511.9 542.5H521.1" stroke="#2a2a2a" stroke-width="1"/>
<path d="M516.5 544.8V546.5" stroke="#787878" stroke-width="1.15"/>
<path d="M511.9 546.5H521.1" stroke="#2a2a2a" stroke-width="1"/>
<path d="M564.5 547.5V544.5" stroke="#787878" stroke-width="1.15"/>
<path d="M559.9 544.5H569.1" stroke="#2a2a2a" stroke-width="1"/>
<path d="M564.5 547.5V549.5" stroke="#787878" stroke-width="1.15"/>
<path d="M559.9 549.5H569.1" stroke="#2a2a2a" stroke-width="1"/>
<polyline points="170.8,549.9 178.8,548.4 184.1,512.7 189.6,477.6 194.9,493.8 202.9,507.9 219.0,536.4 227.0,536.4 243.1,519.9 259.1,542.7 264.4,530.7 269.9,498.3 275.2,508.5 283.2,521.4 299.3,514.5 307.3,525.6 323.4,524.7 339.4,530.7 344.7,497.1 350.2,475.5 355.5,488.4 363.5,508.5 379.6,507.0 387.6,519.6 403.7,514.2 419.7,512.7 467.9,531.0 516.1,544.8 564.3,547.5" fill="none" stroke="#1c1c1c" stroke-width="1" stroke-linejoin="round"/>
<circle cx="170.8" cy="549.9" r="3.95" fill="#1c1c1c"/>
<circle cx="178.8" cy="548.4" r="3.95" fill="#1c1c1c"/>
<circle cx="184.1" cy="512.7" r="3.95" fill="#1c1c1c"/>
<circle cx="189.6" cy="477.6" r="3.95" fill="#1c1c1c"/>
<circle cx="194.9" cy="493.8" r="3.95" fill="#1c1c1c"/>
<circle cx="202.9" cy="507.9" r="3.95" fill="#1c1c1c"/>
<circle cx="219.0" cy="536.4" r="3.95" fill="#1c1c1c"/>
<circle cx="227.0" cy="536.4" r="3.95" fill="#1c1c1c"/>
<circle cx="243.1" cy="519.9" r="3.95" fill="#1c1c1c"/>
<circle cx="259.1" cy="542.7" r="3.95" fill="#1c1c1c"/>
<circle cx="264.4" cy="530.7" r="3.95" fill="#1c1c1c"/>
<circle cx="269.9" cy="498.3" r="3.95" fill="#1c1c1c"/>
<circle cx="275.2" cy="508.5" r="3.95" fill="#1c1c1c"/>
<circle cx="283.2" cy="521.4" r="3.95" fill="#1c1c1c"/>
<circle cx="299.3" cy="514.5" r="3.95" fill="#1c1c1c"/>
<circle cx="307.3" cy="525.6" r="3.95" fill="#1c1c1c"/>
<circle cx="323.4" cy="524.7" r="3.95" fill="#1c1c1c"/>
<circle cx="339.4" cy="530.7" r="3.95" fill="#1c1c1c"/>
<circle cx="344.7" cy="497.1" r="3.95" fill="#1c1c1c"/>
<circle cx="350.2" cy="475.5" r="3.95" fill="#1c1c1c"/>
<circle cx="355.5" cy="488.4" r="3.95" fill="#1c1c1c"/>
<circle cx="363.5" cy="508.5" r="3.95" fill="#1c1c1c"/>
<circle cx="379.6" cy="507.0" r="3.95" fill="#1c1c1c"/>
<circle cx="387.6" cy="519.6" r="3.95" fill="#1c1c1c"/>
<circle cx="403.7" cy="514.2" r="3.95" fill="#1c1c1c"/>
<circle cx="419.7" cy="512.7" r="3.95" fill="#1c1c1c"/>
<circle cx="467.9" cy="531.0" r="3.95" fill="#1c1c1c"/>
<circle cx="516.1" cy="544.8" r="3.95" fill="#1c1c1c"/>
<circle cx="564.3" cy="547.5" r="3.95" fill="#1c1c1c"/>
<text transform="translate(98 302) rotate(-90)" class="ax" textLength="153" lengthAdjust="spacingAndGlyphs">Plasma insulin, mU/L</text>
<text transform="translate(95.5 645) rotate(-90)" class="ax" textLength="175" lengthAdjust="spacingAndGlyphs">Plasma glucose, mmol/L</text>
<text x="326" y="752.8" class="ax" textLength="58.6" lengthAdjust="spacingAndGlyphs">Time (h)</text>
<text x="390.4" y="24.8" class="hd" textLength="159" lengthAdjust="spacingAndGlyphs">Clinical Features of Diabetes</text>
<text x="579" y="24.6" class="pg" textLength="25.2" lengthAdjust="spacingAndGlyphs">313</text>
<rect x="47.5" y="35" width="557.4" height="1" fill="#21709c"/>
<text x="48.2" y="783.2" class="cp fig" textLength="75.2" lengthAdjust="spacingAndGlyphs">Figure 11.2</text>
<text x="133.4" y="783.2" class="cp b" textLength="470.8" lengthAdjust="spacing">Plasma glucose and insulin concentrations in lean and obese subjects</text>
<text x="47.7" y="799.8" class="cp b" textLength="169.5" lengthAdjust="spacingAndGlyphs">during a typical 24 h day</text>
<text x="219.9" y="799.8" class="cp" textLength="384.2" lengthAdjust="spacing">. The volunteers received three meals of equal energy content, at the</text>
<text x="47.7" y="816.4" class="cp" textLength="556.4" lengthAdjust="spacing">times shown by the dashed lines. The meals were adjusted to match the energy requirements of</text>
<text x="47.7" y="833.1" class="cp" textLength="556.4" lengthAdjust="spacing">the volunteers. Note how the obese group (shown by filled circles) (mean Body Mass Index was</text>
<text x="47.7" y="849.7" class="cp" textLength="556.4" lengthAdjust="spacing">32 kg/m<tspan font-size="9" dy="-4">2</tspan><tspan dy="4">) have absolutely normal glucose concentrations fasting and after meals, but their plasma</tspan></text>
<text x="47.7" y="866.3" class="cp" textLength="556.4" lengthAdjust="spacing">insulin concentrations are much higher than those in the lean volunteers (shown by blue open circles),</text>
<text x="47.7" y="882.9" class="cp" textLength="556.4" lengthAdjust="spacing">especially after meals. They need greater than normal insulin concentrations to bring about normal</text>
<text x="47.7" y="899.5" class="cp" textLength="556.4" lengthAdjust="spacing">glucose metabolism, a classic demonstration of insulin resistance. Data from unpublished work by</text>
<text x="47.7" y="916.2" class="cp" textLength="451.0" lengthAdjust="spacing">Siobhán McQuaid, Fredrik Karpe and colleagues, Oxford, with their permission.</text>
<path d="M567.7 910.4Q569.7 910.3 570.5 912.6Q571.3 910.3 573.5 910.4M570.5 912.6V923.2M567.7 925.6Q569.7 925.7 570.5 923.2Q571.3 925.7 573.5 925.6" stroke="#111" stroke-width="1.3" fill="none" stroke-linecap="round"/>
</svg>
</body></html>
